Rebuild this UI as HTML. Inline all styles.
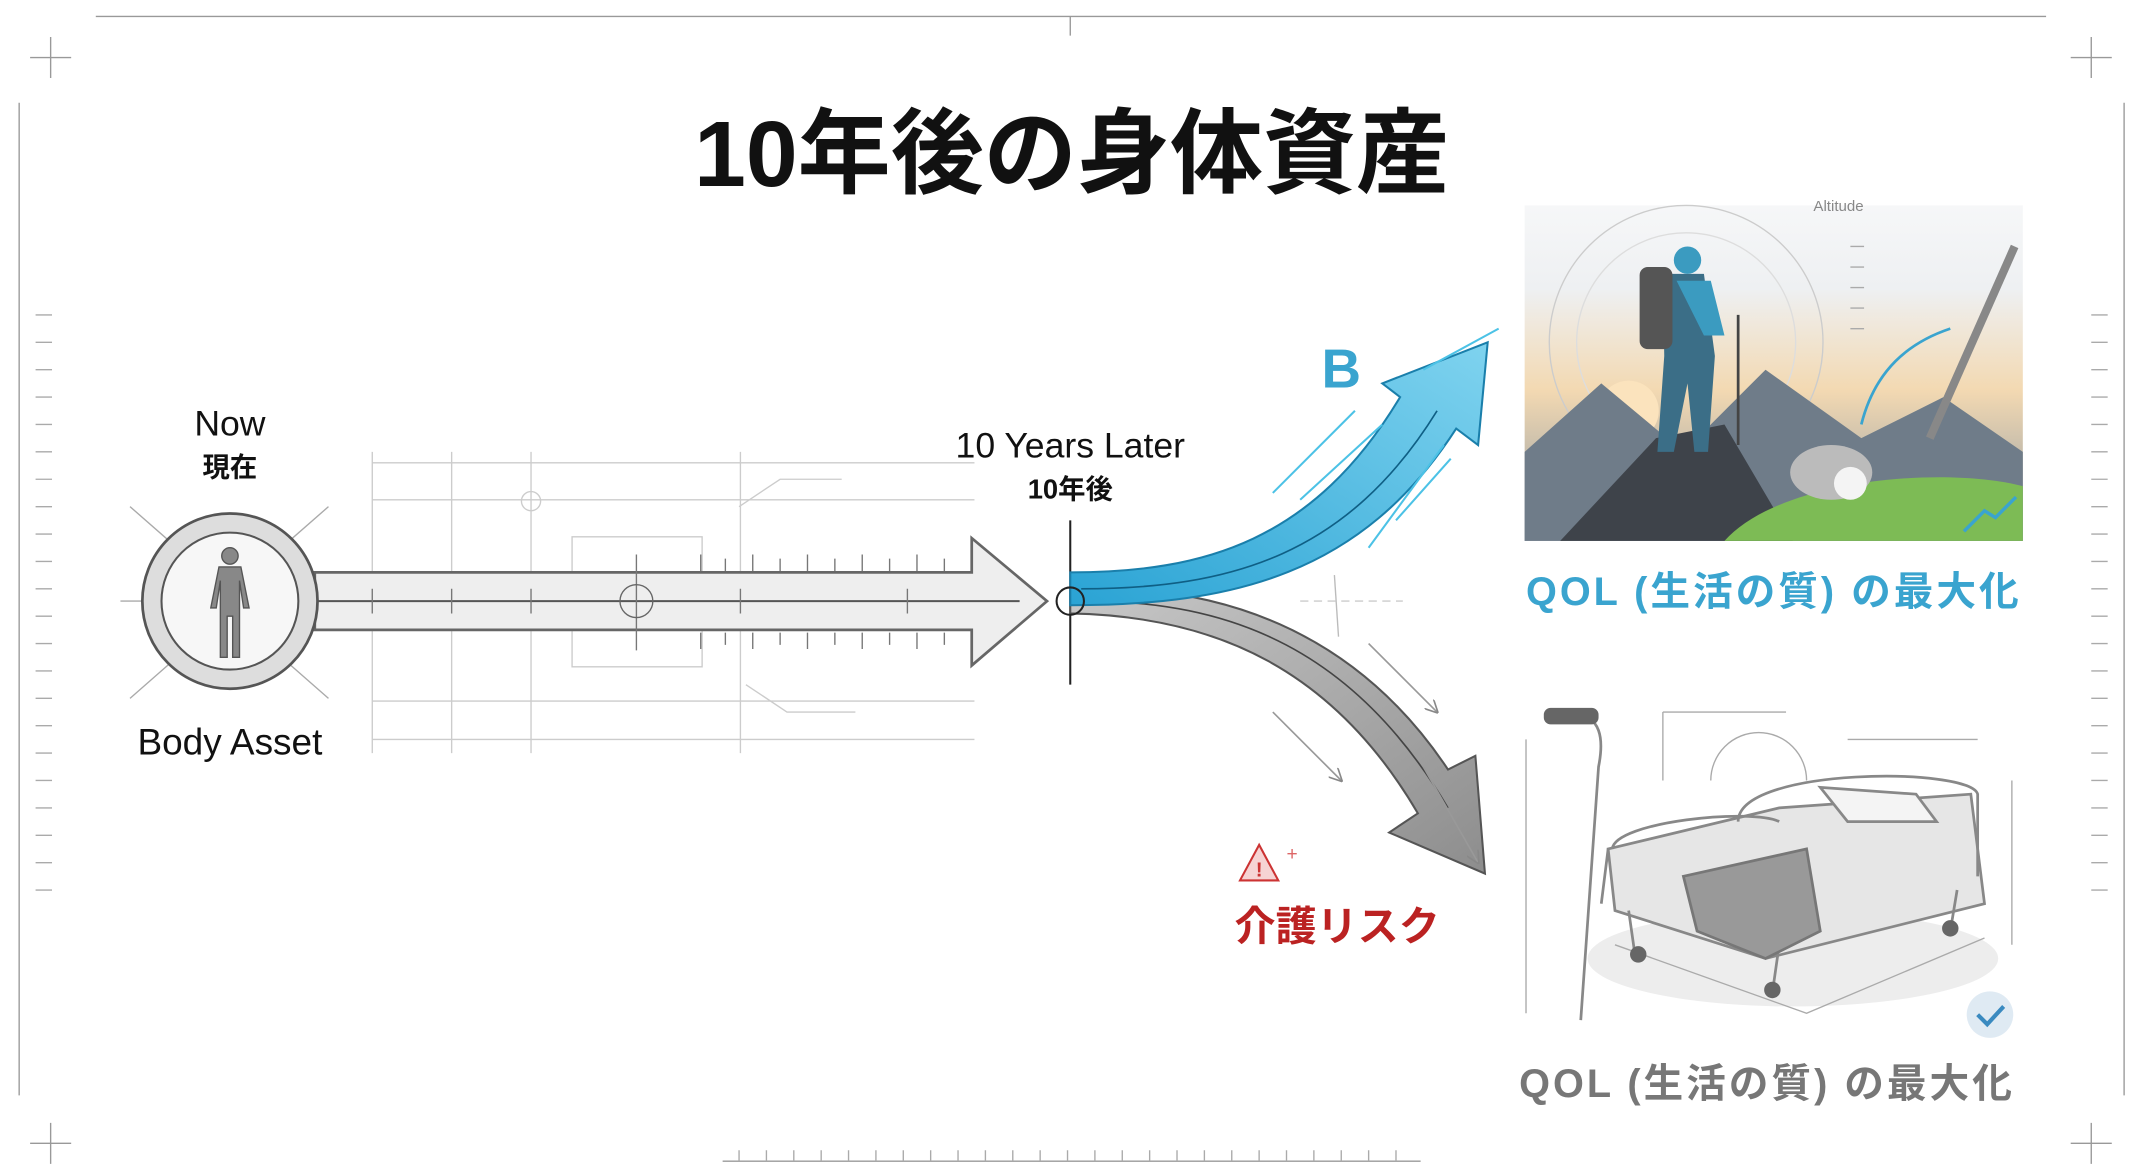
<!DOCTYPE html>
<html><head><meta charset="utf-8"><style>
html,body{margin:0;padding:0;background:#fff;width:2146px;height:1168px;overflow:hidden}
svg{display:block}
text{font-family:"Liberation Sans","Noto Sans CJK JP",sans-serif}
</style></head><body>
<svg width="2146" height="1168" viewBox="0 0 1568 853" preserveAspectRatio="none" xmlns="http://www.w3.org/2000/svg">
<defs>
<linearGradient id="sky" x1="0" y1="0" x2="0" y2="1"><stop offset="0" stop-color="#f6f7f8"/><stop offset="0.25" stop-color="#eef0f2"/><stop offset="0.55" stop-color="#f3d9b2"/><stop offset="1" stop-color="#8a97a3"/></linearGradient>
<linearGradient id="blue" x1="0" y1="1" x2="1" y2="0"><stop offset="0" stop-color="#2aa3d4"/><stop offset="1" stop-color="#7fd3ef"/></linearGradient>
<linearGradient id="gray" x1="0" y1="0" x2="1" y2="1"><stop offset="0" stop-color="#c8c8c8"/><stop offset="1" stop-color="#8d8d8d"/></linearGradient>
<marker id="ah" markerWidth="8" markerHeight="8" refX="7" refY="4" orient="auto"><path d="M0,0 L8,4 L0,8" fill="none" stroke="#888" stroke-width="1"/></marker>
</defs>
<rect width="1568" height="853" fill="#fff"/>
<g stroke="#999" stroke-width="1" fill="none">
<line x1="70" y1="12" x2="1495" y2="12"/>
<line x1="14" y1="75" x2="14" y2="800"/><line x1="1552" y1="75" x2="1552" y2="800"/>
<path d="M22 42h30M37 27v30M1513 42h30M1528 27v30M22 835h30M37 820v30M1513 835h30M1528 820v30M782 12v14"/>
<line x1="528" y1="848" x2="1038" y2="848"/>
</g>
<g stroke="#aaa" stroke-width="1">
<path d="M26 230h12M26 250h12M26 270h12M26 290h12M26 310h12M26 330h12M26 350h12M26 370h12M26 390h12M26 410h12M26 430h12M26 450h12M26 470h12M26 490h12M26 510h12M26 530h12M26 550h12M26 570h12M26 590h12M26 610h12M26 630h12M26 650h12"/>
<path d="M1528 230h12M1528 250h12M1528 270h12M1528 290h12M1528 310h12M1528 330h12M1528 350h12M1528 370h12M1528 390h12M1528 410h12M1528 430h12M1528 450h12M1528 470h12M1528 490h12M1528 510h12M1528 530h12M1528 550h12M1528 570h12M1528 590h12M1528 610h12M1528 630h12M1528 650h12"/>
<path d="M540 840v8M560 840v8M580 840v8M600 840v8M620 840v8M640 840v8M660 840v8M680 840v8M700 840v8M720 840v8M740 840v8M760 840v8M780 840v8M800 840v8M820 840v8M840 840v8M860 840v8M880 840v8M900 840v8M920 840v8M940 840v8M960 840v8M980 840v8M1000 840v8M1020 840v8"/>
</g>
<text x="783" y="136" font-size="68" font-weight="bold" text-anchor="middle" fill="#111">10年後の身体資産</text>
<g stroke="#ccc" stroke-width="1" fill="none">
<path d="M272 338h440M272 365h440M272 512h440M272 540h440M272 330v220M330 330v220M388 330v220M541 330v220M418 392h95v95h-95z"/>
<circle cx="388" cy="366" r="7"/><path d="M540 370l30-20h45M545 500l30 20h50"/>
</g>
<path d="M230 418 H710 V393 L765 439 L710 486 V460 H230 Z" fill="#eeeeee" stroke="#666" stroke-width="2"/>
<line x1="230" y1="439" x2="745" y2="439" stroke="#555" stroke-width="1.5"/>
<g stroke="#777" stroke-width="1"><path d="M512 405v12M530 408v9M550 405v12M570 408v9M590 405v12M610 408v9M630 405v12M650 408v9M670 405v12M690 408v9M512 462v12M530 462v9M550 462v12M570 462v9M590 462v12M610 462v9M630 462v12M650 462v9M670 462v12M690 462v9M465 405v70M272 430v18M330 430v18M388 430v18M541 430v18M663 430v18"/></g>
<circle cx="465" cy="439" r="12" fill="none" stroke="#666"/>
<g stroke="#aaa" stroke-width="1"><path d="M95 370l40 35M240 370l-40 35M95 510l40-35M240 510l-40-35M88 439h30"/></g>
<circle cx="168" cy="439" r="64" fill="#ddd" stroke="#555" stroke-width="2"/>
<circle cx="168" cy="439" r="50" fill="#f7f7f7" stroke="#555" stroke-width="1.5"/>
<g fill="#888" stroke="#555"><circle cx="168" cy="406" r="6"/><path d="M160 414h16l6 30h-4l-3-20v56h-5v-30h-4v30h-5v-56l-3 20h-4z"/></g>
<text x="168" y="318" font-size="26" text-anchor="middle" fill="#111">Now</text>
<text x="168" y="348" font-size="20" font-weight="bold" text-anchor="middle" fill="#111">現在</text>
<text x="168" y="551" font-size="27" text-anchor="middle" fill="#111">Body Asset</text>
<line x1="782" y1="380" x2="782" y2="500" stroke="#222" stroke-width="1.5"/>
<text x="782" y="334" font-size="26" text-anchor="middle" fill="#111">10 Years Later</text>
<text x="782" y="364" font-size="20" font-weight="bold" text-anchor="middle" fill="#111">10年後</text>
<!-- gray branch -->
<path d="M782 430 C890 425 990 460 1058 562 L1078 552 L1085 638 L1015 608 L1036 594 C975 490 890 450 782 448 Z" fill="url(#gray)" stroke="#555" stroke-width="1.5"/>
<path d="M790 439 C900 438 990 475 1058 590" fill="none" stroke="#444" stroke-width="1.2"/>
<!-- blue branch -->
<path d="M782 418 C880 418 960 395 1023 290 L1010 280 L1087 250 L1080 325 L1064 313 C995 420 900 442 782 442 Z" fill="url(#blue)" stroke="#1a7fab" stroke-width="1.5"/>
<path d="M790 430 C900 430 985 405 1050 300" fill="none" stroke="#0f5f85" stroke-width="1.2"/>
<circle cx="782" cy="439" r="10" fill="none" stroke="#222" stroke-width="1.5"/>
<g stroke="#4cc2e6" stroke-width="1.5" fill="none"><path d="M930 360l60-60M950 365l60-55M1000 400l55-75M1040 270l55-30M1020 380l40-45"/></g>
<text x="980" y="283" font-size="40" font-weight="bold" text-anchor="middle" fill="#3aa4cf">B</text>
<g stroke="#999" stroke-width="1.2" fill="none" marker-end="url(#ah)"><path d="M930 520l50 50"/><path d="M1000 470l50 50"/><path d="M1040 560l40 70"/></g>
<path d="M975 420l3 45" stroke="#bbb" fill="none"/><path d="M950 439h75" stroke="#ccc" stroke-dasharray="6 4"/>
<path d="M920 617l-14 26h28z" fill="#f6d3d3" stroke="#c33" stroke-width="1.5"/>
<text x="920" y="640" font-size="15" font-weight="bold" text-anchor="middle" fill="#c33">!</text>
<text x="940" y="628" font-size="14" fill="#d66">+</text>
<text x="977" y="687" font-size="30" font-weight="bold" text-anchor="middle" fill="#b22">介護リスク</text>
<!-- mountain image -->
<rect x="1114" y="150" width="364" height="245" fill="url(#sky)"/>
<circle cx="1232" cy="250" r="100" fill="none" stroke="#ccc"/>
<circle cx="1232" cy="250" r="80" fill="none" stroke="#ddd"/>
<circle cx="1190" cy="300" r="22" fill="#fbe3bd"/>
<path d="M1114 330 L1170 280 L1230 330 L1290 270 L1360 320 L1420 290 L1478 330 L1478 395 L1114 395Z" fill="#6f7c89"/>
<path d="M1140 395 L1210 320 L1260 310 L1310 395Z" fill="#3e434a"/>
<path d="M1260 395 C1300 350 1420 340 1478 355 L1478 395Z" fill="#7dbb55"/>
<path d="M1215 200h30l8 60-5 70h-10l-5-50-10 50h-12l5-70z" fill="#3b6e87"/>
<path d="M1225 205h25l10 40h-15z" fill="#3b9bc0"/>
<circle cx="1233" cy="190" r="10" fill="#3b9bc0"/>
<rect x="1198" y="195" width="24" height="60" rx="6" fill="#555"/>
<path d="M1270 230v95" stroke="#444" stroke-width="2"/>
<path d="M1472 180 L1410 320" stroke="#888" stroke-width="6"/>
<ellipse cx="1338" cy="345" rx="30" ry="20" fill="#bbb"/><circle cx="1352" cy="353" r="12" fill="#f4f4f4"/>
<path d="M1360 310 C1370 270 1395 250 1425 240" stroke="#3aa4cf" stroke-width="2" fill="none"/>
<path d="M1435 388l15-15 8 5 15-15" stroke="#3aa4cf" stroke-width="2.5" fill="none"/>
<g stroke="#aaa"><path d="M1352 180h10M1352 195h10M1352 210h10M1352 225h10M1352 240h10"/></g>
<text x="1325" y="154" font-size="11" fill="#888">Altitude</text>
<text x="1295" y="442" font-size="29" font-weight="bold" text-anchor="middle" fill="#3aa4cf" textLength="360">QOL (生活の質) の最大化</text>
<!-- bed image -->
<ellipse cx="1310" cy="700" rx="150" ry="35" fill="#ededed"/>
<g stroke="#888" stroke-width="2" fill="none">
<path d="M1150 522 C1170 522 1172 540 1168 560 L1155 745"/>
<path d="M1175 620 L1300 590 L1440 580 L1450 660 L1290 700 L1180 665Z" fill="#e6e6e6"/>
<path d="M1175 620 L1170 660 M1178 620 C1180 600 1280 590 1300 600" />
<path d="M1270 600 C1270 560 1440 560 1445 580 L1445 640"/>
<path d="M1190 665 L1195 700 M1300 690 L1295 725 M1430 650 L1425 680"/>
<path d="M1330 575 L1400 580 L1415 600 L1350 600Z" fill="#f4f4f4"/>
<path d="M1230 640 L1320 620 L1330 680 L1290 700 L1240 680Z" fill="#999" stroke="#777"/>
</g>
<rect x="1128" y="517" width="40" height="12" rx="5" fill="#666"/>
<g stroke="#aaa" stroke-width="1" fill="none"><path d="M1215 520 h90 M1250 570 a35 35 0 0 1 70 0 M1350 540 h95 M1470 570 v120 M1115 540 v200 M1215 520v50 M1180 690 l140 50 l130 -55"/></g>
<circle cx="1197" cy="697" r="6" fill="#666"/><circle cx="1295" cy="723" r="6" fill="#666"/><circle cx="1425" cy="678" r="6" fill="#666"/>
<circle cx="1454" cy="741" r="17" fill="#dfeaf3"/>
<path d="M1445 741l7 7 12-13" stroke="#3a8ac0" stroke-width="3" fill="none"/>
<text x="1290" y="801" font-size="29" font-weight="bold" text-anchor="middle" fill="#777" textLength="360">QOL (生活の質) の最大化</text>
</svg>
</body></html>
